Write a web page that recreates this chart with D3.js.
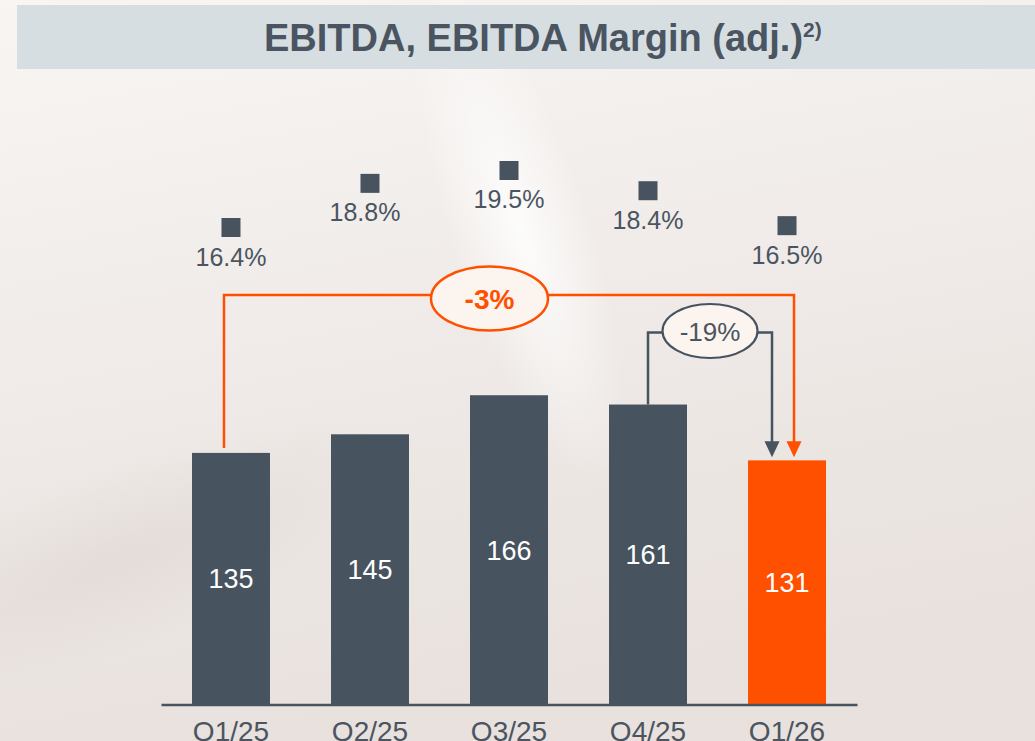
<!DOCTYPE html>
<html>
<head>
<meta charset="utf-8">
<script src="https://cdn.jsdelivr.net/npm/d3@7"></script>
<style>
  html, body { margin: 0; padding: 0; overflow: hidden; }
  body { width: 1035px; height: 741px; }
  svg { display: block; font-family: "Liberation Sans", Arial, sans-serif; }
</style>
</head>
<body>
<div id="chart"></div>
<script>
// data
var quarters = ["Q1/25", "Q2/25", "Q3/25", "Q4/25", "Q1/26"];
var ebitda = [135, 145, 166, 161, 131];
var margins = [16.4, 18.8, 19.5, 18.4, 16.5];
var marginLabels = ["16.4%", "18.8%", "19.5%", "18.4%", "16.5%"];
var changeLabels = ["-3%", "-19%"];

var svgWidth = 1035;
var svgHeight = 741;

var grey = "#47535e";
var textGrey = "#4a5561";
var orange = "#ff5000";

var svg = d3.select("#chart")
  .append("svg")
  .attr("width", svgWidth)
  .attr("height", svgHeight);

// background with the soft light streak
var defs = svg.append("defs");

var bgGrad = defs.append("linearGradient")
  .attr("id", "bg")
  .attr("x1", 0).attr("y1", 0).attr("x2", 0.25).attr("y2", 1);
bgGrad.append("stop").attr("offset", "0%").attr("stop-color", "#f8f5f3");
bgGrad.append("stop").attr("offset", "55%").attr("stop-color", "#efeae7");
bgGrad.append("stop").attr("offset", "100%").attr("stop-color", "#e8e1de");

var glow = defs.append("radialGradient").attr("id", "glow");
glow.append("stop").attr("offset", "0%").attr("stop-color", "#ffffff").attr("stop-opacity", 0.85);
glow.append("stop").attr("offset", "100%").attr("stop-color", "#ffffff").attr("stop-opacity", 0);

var shade = defs.append("radialGradient").attr("id", "shade");
shade.append("stop").attr("offset", "0%").attr("stop-color", "#ded6d2").attr("stop-opacity", 0.6);
shade.append("stop").attr("offset", "100%").attr("stop-color", "#ded6d2").attr("stop-opacity", 0);

svg.append("rect")
  .attr("width", svgWidth)
  .attr("height", svgHeight)
  .attr("fill", "url(#bg)");

svg.append("ellipse")
  .attr("cx", 0).attr("cy", 0).attr("rx", 70).attr("ry", 260)
  .attr("transform", "translate(520, 230) rotate(-18)")
  .attr("fill", "url(#glow)");

svg.append("ellipse")
  .attr("cx", 0).attr("cy", 0).attr("rx", 320).attr("ry", 90)
  .attr("transform", "translate(120, 560) rotate(-20)")
  .attr("fill", "url(#shade)");

// title bar
svg.append("rect")
  .attr("x", 17).attr("y", 5)
  .attr("width", svgWidth - 17).attr("height", 64)
  .attr("fill", "#d6dee2");

var title = svg.append("text")
  .attr("x", 264).attr("y", 51)
  .attr("fill", textGrey)
  .attr("font-size", "38px")
  .attr("font-weight", "bold")
  .text("EBITDA, EBITDA Margin (adj.)");
title.append("tspan")
  .attr("font-size", "21px")
  .attr("dy", -14)
  .text("2)");

// scales
var xScale = d3.scaleBand()
  .domain(quarters)
  .range([161, 857])
  .paddingInner(0.439)
  .paddingOuter(0.223);

var yScale = d3.scaleLinear()
  .domain([0, 200])
  .range([704, 332]);

var mScale = d3.scaleLinear()
  .domain([10, 20])
  .range([345.2, 161.3]);

var cx = function(i) { return xScale(quarters[i]) + xScale.bandwidth() / 2; };

var chartGroup = svg.append("g");

// bars
chartGroup.selectAll(".bar")
  .data(ebitda)
  .enter()
  .append("rect")
  .attr("class", "bar")
  .attr("x", (d, i) => xScale(quarters[i]))
  .attr("y", d => yScale(d))
  .attr("width", xScale.bandwidth())
  .attr("height", d => yScale(0) - yScale(d))
  .attr("fill", (d, i) => i === ebitda.length - 1 ? orange : grey);

// bar values
chartGroup.selectAll(".barLabel")
  .data(ebitda)
  .enter()
  .append("text")
  .attr("x", (d, i) => cx(i))
  .attr("y", d => (yScale(d) + yScale(0)) / 2 + 10)
  .attr("text-anchor", "middle")
  .attr("fill", "#ffffff")
  .attr("font-size", "27px")
  .text(d => d);

// x axis
var bottomAxis = d3.axisBottom(xScale).tickSize(0).tickPadding(17);
var xAxis = chartGroup.append("g")
  .attr("transform", "translate(0, 704.5)")
  .call(bottomAxis);
xAxis.select(".domain")
  .attr("stroke", grey)
  .attr("stroke-width", 2.5);
xAxis.selectAll("text")
  .attr("fill", textGrey)
  .attr("font-size", "28px")
  .attr("font-family", "'Liberation Sans', Arial, sans-serif");

// margin markers
chartGroup.selectAll(".marker")
  .data(margins)
  .enter()
  .append("rect")
  .attr("class", "marker")
  .attr("x", (d, i) => cx(i) - 9.5)
  .attr("y", d => mScale(d) - 9.5)
  .attr("width", 19)
  .attr("height", 19)
  .attr("fill", grey);

chartGroup.selectAll(".marginLabel")
  .data(margins)
  .enter()
  .append("text")
  .attr("x", (d, i) => cx(i) - (i === 1 ? 5 : 0))
  .attr("y", d => mScale(d) + 38)
  .attr("text-anchor", "middle")
  .attr("fill", textGrey)
  .attr("font-size", "25px")
  .text((d, i) => marginLabels[i]);

// orange bracket Q1/25 -> Q1/26
var lastTop = yScale(ebitda[4]);
var orangeY = 295;
var oLeft = cx(0) - 7;
var oRight = cx(4) + 7;
chartGroup.append("path")
  .attr("d", `M${oLeft},${yScale(ebitda[0]) - 5} V${orangeY} H${oRight} V${lastTop - 18}`)
  .attr("fill", "none")
  .attr("stroke", orange)
  .attr("stroke-width", 2.5);
chartGroup.append("path")
  .attr("d", `M${oRight - 7.5},${lastTop - 19} L${oRight + 7.5},${lastTop - 19} L${oRight},${lastTop - 3} Z`)
  .attr("fill", orange);

// grey bracket Q4/25 -> Q1/26
var greyY = 332.5;
var gLeft = cx(3);
var gRight = cx(4) - 15;
chartGroup.append("path")
  .attr("d", `M${gLeft},${yScale(ebitda[3])} V${greyY} H${gRight} V${lastTop - 18}`)
  .attr("fill", "none")
  .attr("stroke", grey)
  .attr("stroke-width", 2.5);
chartGroup.append("path")
  .attr("d", `M${gRight - 7.5},${lastTop - 19} L${gRight + 7.5},${lastTop - 19} L${gRight},${lastTop - 3} Z`)
  .attr("fill", grey);

// change bubbles
chartGroup.append("ellipse")
  .attr("cx", 489.5).attr("cy", 298.5)
  .attr("rx", 58.5).attr("ry", 32)
  .attr("fill", "#fcf4ef")
  .attr("stroke", orange)
  .attr("stroke-width", 2.5);
chartGroup.append("text")
  .attr("x", 489.5).attr("y", 309)
  .attr("text-anchor", "middle")
  .attr("fill", orange)
  .attr("font-size", "28px")
  .attr("font-weight", "bold")
  .text(changeLabels[0]);

chartGroup.append("ellipse")
  .attr("cx", (gLeft + gRight) / 2).attr("cy", 331)
  .attr("rx", 47.5).attr("ry", 27)
  .attr("fill", "#fcf4ef")
  .attr("stroke", grey)
  .attr("stroke-width", 2.2);
chartGroup.append("text")
  .attr("x", (gLeft + gRight) / 2).attr("y", 341)
  .attr("text-anchor", "middle")
  .attr("fill", textGrey)
  .attr("font-size", "26px")
  .text(changeLabels[1]);
</script>
</body>
</html>
